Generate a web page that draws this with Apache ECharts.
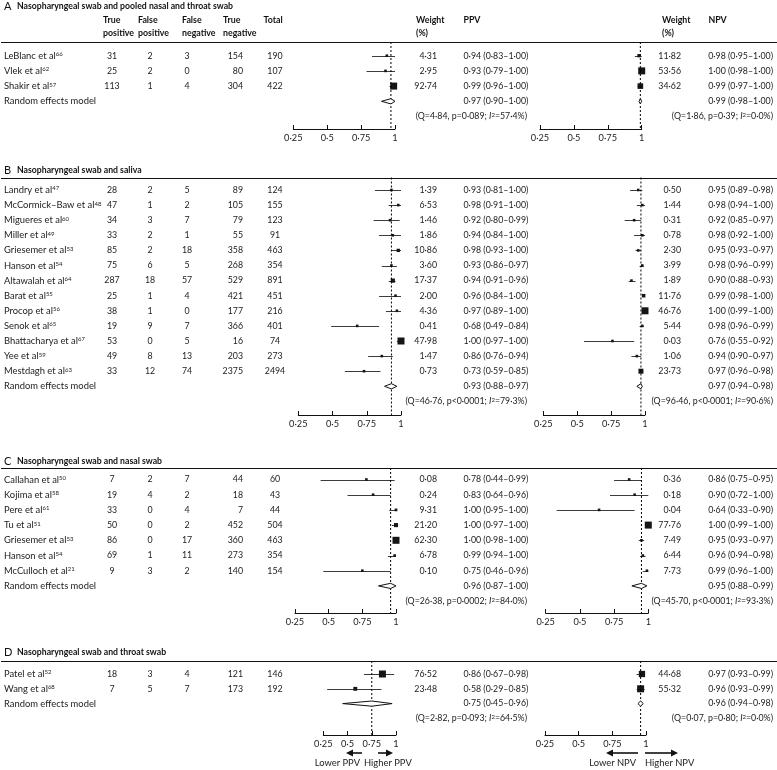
<!DOCTYPE html>
<html><head><meta charset="utf-8">
<script src="https://cdn.jsdelivr.net/npm/echarts@6/dist/echarts.min.js"></script>
<style>html,body{margin:0;padding:0;background:#fff}#c{width:777px;height:770px}</style>
</head><body><div id="c"></div>
<script>
// ---------------- DATA ----------------
// Panel A
const aTitle = 'Nasopharyngeal swab and pooled nasal and throat swab';
const aStudies = ['LeBlanc et al', 'Vlek et al', 'Shakir et al'];
const aRefs = ['66', '62', '57'];
const aTP = [31, 25, 113];
const aFP = [2, 2, 1];
const aFN = [3, 0, 4];
const aTN = [154, 80, 304];
const aTotal = [190, 107, 422];
const aPpvW = [4.31, 2.95, 92.74];
const aPpv = [0.94, 0.93, 0.99];
const aPpvLo = [0.83, 0.79, 0.96];
const aPpvHi = [1.00, 1.00, 1.00];
const aPpvPooled = [0.97, 0.90, 1.00];
const aPpvStats = [4.84, '=0.089', 57.4];
const aNpvW = [11.82, 53.56, 34.62];
const aNpv = [0.98, 1.00, 0.99];
const aNpvLo = [0.95, 0.98, 0.97];
const aNpvHi = [1.00, 1.00, 1.00];
const aNpvPooled = [0.99, 0.98, 1.00];
const aNpvStats = [1.86, '=0.39', 0.0];

// Panel B
const bTitle = 'Nasopharyngeal swab and saliva';
const bStudies = ['Landry et al', 'McCormick–Baw et al', 'Migueres et al', 'Miller et al', 'Griesemer et al', 'Hanson et al', 'Altawalah et al', 'Barat et al', 'Procop et al', 'Senok et al', 'Bhattacharya et al', 'Yee et al', 'Mestdagh et al'];
const bRefs = ['47', '48', '60', '49', '53', '54', '64', '55', '56', '65', '67', '59', '63'];
const bTP = [28, 47, 34, 33, 85, 75, 287, 25, 38, 19, 53, 49, 33];
const bFP = [2, 1, 3, 2, 2, 6, 18, 1, 1, 9, 0, 8, 12];
const bFN = [5, 2, 7, 1, 18, 5, 57, 4, 0, 7, 5, 13, 74];
const bTN = [89, 105, 79, 55, 358, 268, 529, 421, 177, 366, 16, 203, 2375];
const bTotal = [124, 155, 123, 91, 463, 354, 891, 451, 216, 401, 74, 273, 2494];
const bPpvW = [1.39, 6.53, 1.46, 1.86, 10.86, 3.60, 17.37, 2.00, 4.36, 0.41, 47.98, 1.47, 0.73];
const bPpv = [0.93, 0.98, 0.92, 0.94, 0.98, 0.93, 0.94, 0.96, 0.97, 0.68, 1.00, 0.86, 0.73];
const bPpvLo = [0.81, 0.91, 0.80, 0.84, 0.93, 0.86, 0.91, 0.84, 0.89, 0.49, 0.97, 0.76, 0.59];
const bPpvHi = [1.00, 1.00, 0.99, 1.00, 1.00, 0.97, 0.96, 1.00, 1.00, 0.84, 1.00, 0.94, 0.85];
const bPpvPooled = [0.93, 0.88, 0.97];
const bPpvStats = [46.76, '<0.0001', 79.3];
const bNpvW = [0.50, 1.44, 0.31, 0.78, 2.30, 3.99, 1.89, 11.76, 46.76, 5.44, 0.03, 1.06, 23.73];
const bNpv = [0.95, 0.98, 0.92, 0.98, 0.95, 0.98, 0.90, 0.99, 1.00, 0.98, 0.76, 0.94, 0.97];
const bNpvLo = [0.89, 0.94, 0.85, 0.92, 0.93, 0.96, 0.88, 0.98, 0.99, 0.96, 0.55, 0.90, 0.96];
const bNpvHi = [0.98, 1.00, 0.97, 1.00, 0.97, 0.99, 0.93, 1.00, 1.00, 0.99, 0.92, 0.97, 0.98];
const bNpvPooled = [0.97, 0.94, 0.98];
const bNpvStats = [96.46, '<0.0001', 90.6];

// Panel C
const cTitle = 'Nasopharyngeal swab and nasal swab';
const cStudies = ['Callahan et al', 'Kojima et al', 'Pere et al', 'Tu et al', 'Griesemer et al', 'Hanson et al', 'McCulloch et al'];
const cRefs = ['50', '58', '61', '51', '53', '54', '21'];
const cTP = [7, 19, 33, 50, 86, 69, 9];
const cFP = [2, 4, 0, 0, 0, 1, 3];
const cFN = [7, 2, 4, 2, 17, 11, 2];
const cTN = [44, 18, 7, 452, 360, 273, 140];
const cTotal = [60, 43, 44, 504, 463, 354, 154];
const cPpvW = [0.08, 0.24, 9.31, 21.20, 62.30, 6.78, 0.10];
const cPpv = [0.78, 0.83, 1.00, 1.00, 1.00, 0.99, 0.75];
const cPpvLo = [0.44, 0.64, 0.95, 0.97, 0.98, 0.94, 0.46];
const cPpvHi = [0.99, 0.96, 1.00, 1.00, 1.00, 1.00, 0.96];
const cPpvPooled = [0.96, 0.87, 1.00];
const cPpvStats = [26.38, '=0.0002', 84.0];
const cNpvW = [0.36, 0.18, 0.04, 77.76, 7.49, 6.44, 7.73];
const cNpv = [0.86, 0.90, 0.64, 1.00, 0.95, 0.96, 0.99];
const cNpvLo = [0.75, 0.72, 0.33, 0.99, 0.93, 0.94, 0.96];
const cNpvHi = [0.95, 1.00, 0.90, 1.00, 0.97, 0.98, 1.00];
const cNpvPooled = [0.95, 0.88, 0.99];
const cNpvStats = [45.70, '<0.0001', 93.3];

// Panel D
const dTitle = 'Nasopharyngeal swab and throat swab';
const dStudies = ['Patel et al', 'Wang et al'];
const dRefs = ['52', '68'];
const dTP = [18, 7];
const dFP = [3, 5];
const dFN = [4, 7];
const dTN = [121, 173];
const dTotal = [146, 192];
const dPpvW = [76.52, 23.48];
const dPpv = [0.86, 0.58];
const dPpvLo = [0.67, 0.29];
const dPpvHi = [0.98, 0.85];
const dPpvPooled = [0.75, 0.45, 0.96];
const dPpvStats = [2.82, '=0.093', 64.5];
const dNpvW = [44.68, 55.32];
const dNpv = [0.97, 0.96];
const dNpvLo = [0.93, 0.93];
const dNpvHi = [0.99, 0.99];
const dNpvPooled = [0.96, 0.94, 0.98];
const dNpvStats = [0.07, '=0.80', 0.0];

const axisTicks = [0.25, 0.5, 0.75, 1];

// ---------------- LAYOUT ----------------
const FONT = 'Lato, "Liberation Sans", sans-serif';
const FS = 8.8;      // numbers
const FSN = 9.4;     // names / words
const INK = '#222';

const panels = [
  {letter:'A', title:aTitle, studies:aStudies, refs:aRefs, tp:aTP, fp:aFP, fn:aFN, tn:aTN, total:aTotal,
   ppv:{w:aPpvW, e:aPpv, lo:aPpvLo, hi:aPpvHi, pooled:aPpvPooled, stats:aPpvStats},
   npv:{w:aNpvW, e:aNpv, lo:aNpvLo, hi:aNpvHi, pooled:aNpvPooled, stats:aNpvStats},
   L:{titleY:6, lineY:42, row0:55.7, step:15.2, axisY:129, ppvX:[293.3,395], npvX:[540,641.7]}},
  {letter:'B', title:bTitle, studies:bStudies, refs:bRefs, tp:bTP, fp:bFP, fn:bFN, tn:bTN, total:bTotal,
   ppv:{w:bPpvW, e:bPpv, lo:bPpvLo, hi:bPpvHi, pooled:bPpvPooled, stats:bPpvStats},
   npv:{w:bNpvW, e:bNpv, lo:bNpvLo, hi:bNpvHi, pooled:bNpvPooled, stats:bNpvStats},
   L:{titleY:170, lineY:177.5, row0:190, step:15.1, axisY:415, ppvX:[298.3,401], npvX:[543.3,645]}},
  {letter:'C', title:cTitle, studies:cStudies, refs:cRefs, tp:cTP, fp:cFP, fn:cFN, tn:cTN, total:cTotal,
   ppv:{w:cPpvW, e:cPpv, lo:cPpvLo, hi:cPpvHi, pooled:cPpvPooled, stats:cPpvStats},
   npv:{w:cNpvW, e:cNpv, lo:cNpvLo, hi:cNpvHi, pooled:cNpvPooled, stats:cNpvStats},
   L:{titleY:461, lineY:468, row0:479.5, step:15.2, axisY:613, ppvX:[295,396], npvX:[545.7,648.3]}},
  {letter:'D', title:dTitle, studies:dStudies, refs:dRefs, tp:dTP, fp:dFP, fn:dFN, tn:dTN, total:dTotal,
   ppv:{w:dPpvW, e:dPpv, lo:dPpvLo, hi:dPpvHi, pooled:dPpvPooled, stats:dPpvStats},
   npv:{w:dNpvW, e:dNpv, lo:dNpvLo, hi:dNpvHi, pooled:dNpvPooled, stats:dNpvStats},
   L:{titleY:652, lineY:661, row0:674, step:14.8, axisY:735, ppvX:[323.3,396], npvX:[545,646]}}
];

function fmt(v, d) { return v.toFixed(d).replace('.', '·'); }
function ciText(e, l, h) { return fmt(e,2) + ' (' + fmt(l,2) + '–' + fmt(h,2) + ')'; }
function statText(s) { return '(Q=' + fmt(s[0],2) + ', p' + s[1].replace('.', '·') + '; {i|I}{s|2}=' + fmt(s[2],1) + '%)'; }

const RICH = {
  s: {fontSize: 6, fontFamily: FONT, fill: INK, verticalAlign: 'top', lineHeight: 7},
  i: {fontSize: FS, fontFamily: FONT, fill: INK, fontStyle: 'italic'}
};
function txt(x, y, text, align, extra) {
  return {type:'text', x:x, y:y, silent:true,
    style: Object.assign({text:text, fill:INK, fontSize:FS, fontFamily:FONT, align:align||'left', verticalAlign:'middle', rich:RICH}, extra||{})};
}
const crisp = y => Math.round(y) + 0.5;
const NAME = {fontSize: FSN};

const grids = [], xAxes = [], yAxes = [], series = [], graphics = [];

panels.forEach(P => {
  const L = P.L, n = P.studies.length;
  const yMin = (L.lineY - L.row0) / L.step, yMax = (L.axisY - L.row0) / L.step;
  let firstGrid = -1;
  ['ppv', 'npv'].forEach(k => {
    const X = L[k + 'X'], D = P[k];
    const gi = grids.length;
    if (firstGrid < 0) firstGrid = gi;
    grids.push({left: X[0], top: L.lineY, width: X[1] - X[0], height: L.axisY - L.lineY, containLabel: false});
    xAxes.push({gridIndex: gi, type: 'value', min: axisTicks[0], max: axisTicks[axisTicks.length-1], interval: 0.25,
      axisLine: {show: true, onZero: false, lineStyle: {color: '#111', width: 1}},
      axisTick: {show: true, inside: true, length: 4, lineStyle: {color: '#111', width: 1}},
      axisLabel: {show: true, fontSize: 9.2, fontFamily: FONT, color: INK, margin: 5,
        formatter: v => String(+v.toFixed(2)).replace('.', '·')},
      splitLine: {show: false}});
    yAxes.push({gridIndex: gi, type: 'value', inverse: true, min: yMin, max: yMax, show: false});
    const maxW = Math.max.apply(null, D.w);
    // dashed reference line at pooled estimate
    series.push({type: 'line', xAxisIndex: gi, yAxisIndex: gi, silent: true, symbol: 'none', animation: false,
      data: [[D.pooled[0], yMin], [D.pooled[0], yMax]],
      lineStyle: {color: '#000', width: 1, type: [2, 2]}});
    // study CIs and squares
    series.push({type: 'custom', xAxisIndex: gi, yAxisIndex: gi, clip: false, silent: true, animation: false,
      data: D.e.map((e, i) => [i, e, D.lo[i], D.hi[i], D.w[i]]),
      renderItem: (params, api) => {
        const row = api.value(0);
        const pL = api.coord([api.value(2), row]), pH = api.coord([api.value(3), row]), pE = api.coord([api.value(1), row]);
        const s = Math.max(2.6, 7 * Math.sqrt(api.value(4) / maxW));
        const y = crisp(pE[1]);
        return {type: 'group', children: [
          {type: 'line', shape: {x1: pL[0], y1: y, x2: pH[0], y2: y}, style: {stroke: '#3c3c3c', lineWidth: 1}},
          {type: 'rect', shape: {x: pE[0] - s/2, y: pE[1] - s/2, width: s, height: s}, style: {fill: '#151515'}}
        ]};
      }});
    // pooled diamond
    series.push({type: 'custom', xAxisIndex: gi, yAxisIndex: gi, clip: false, silent: true, animation: false, z: 5,
      data: [[n, D.pooled[0], D.pooled[1], D.pooled[2]]],
      renderItem: (params, api) => {
        const row = api.value(0);
        const pE = api.coord([api.value(1), row]), pL = api.coord([api.value(2), row]), pH = api.coord([api.value(3), row]);
        const h = 2.6;
        return {type: 'polygon', shape: {points: [[pL[0], pE[1]], [pE[0], pE[1] - h], [pH[0], pE[1]], [pE[0], pE[1] + h]]},
          style: {fill: '#fff', stroke: '#111', lineWidth: 1}};
      }});
  });
  // table text, aligned to rows through the PPV grid's y axis
  const rows = [];
  for (let i = 0; i < n + 2; i++) rows.push([0.5, i]);
  series.push({type: 'custom', xAxisIndex: firstGrid, yAxisIndex: firstGrid, clip: false, silent: true, animation: false,
    data: rows,
    renderItem: (params, api) => {
      const row = api.value(1);
      const y = api.coord([0.5, row])[1];
      const ch = [];
      if (row < n) {
        ch.push(txt(4, y, P.studies[row] + '{s|' + P.refs[row] + '}', 'left', NAME));
        ch.push(txt(112, y, String(P.tp[row]), 'center'));
        ch.push(txt(150, y, String(P.fp[row]), 'center'));
        ch.push(txt(187, y, String(P.fn[row]), 'center'));
        ch.push(txt(243, y, String(P.tn[row]), 'right'));
        ch.push(txt(275, y, String(P.total[row]), 'center'));
        ch.push(txt(437, y, fmt(P.ppv.w[row], 2), 'right'));
        ch.push(txt(463.5, y, ciText(P.ppv.e[row], P.ppv.lo[row], P.ppv.hi[row]), 'left'));
        ch.push(txt(681, y, fmt(P.npv.w[row], 2), 'right'));
        ch.push(txt(773, y, ciText(P.npv.e[row], P.npv.lo[row], P.npv.hi[row]), 'right'));
      } else if (row === n) {
        ch.push(txt(4, y, 'Random effects model', 'left', NAME));
        ch.push(txt(463.5, y, ciText(P.ppv.pooled[0], P.ppv.pooled[1], P.ppv.pooled[2]), 'left'));
        ch.push(txt(773, y, ciText(P.npv.pooled[0], P.npv.pooled[1], P.npv.pooled[2]), 'right'));
      } else {
        ch.push(txt(527, y, statText(P.ppv.stats), 'right'));
        ch.push(txt(773, y, statText(P.npv.stats), 'right'));
      }
      return {type: 'group', children: ch};
    }});
  // panel title and rule
  graphics.push(txt(4, L.titleY, P.letter, 'left', {fontSize: 11, fill: '#111'}));
  graphics.push(txt(17, L.titleY, P.title, 'left', {fontSize: 8.7, fontWeight: 'bold', fill: '#111'}));
  graphics.push({type: 'line', silent: true, shape: {x1: 1, y1: crisp(L.lineY), x2: 777, y2: crisp(L.lineY)}, style: {stroke: '#111', lineWidth: 1}});
});

// column headers (panel A)
const HB = {fontWeight: 'bold', fill: '#111'};
[['True', 'positive', 103], ['False', 'positive', 138], ['False', 'negative', 182], ['True', 'negative', 223], ['Total', '', 263.5],
 ['Weight', '(%)', 416], ['PPV', '', 463.5], ['Weight', '(%)', 662], ['NPV', '', 708.5]].forEach(h => {
  graphics.push(txt(h[2], 20, h[0], 'left', HB));
  if (h[1]) graphics.push(txt(h[2], 33, h[1], 'left', HB));
});

// direction arrows under panel D
function arrow(xTail, xHead, y) {
  const dir = xHead > xTail ? 1 : -1;
  const base = xHead - dir * 7;
  graphics.push({type: 'line', silent: true, shape: {x1: xTail, y1: y, x2: base, y2: y}, style: {stroke: '#111', lineWidth: 1.6}});
  graphics.push({type: 'polygon', silent: true, shape: {points: [[xHead, y], [base, y - 3.5], [base, y + 3.5]]}, style: {fill: '#111'}});
}
arrow(362, 346, 753);
arrow(378, 393, 753);
arrow(638, 606, 753);
arrow(645, 678, 753);
graphics.push(txt(360, 763, 'Lower PPV', 'right', NAME));
graphics.push(txt(364, 763, 'Higher PPV', 'left', NAME));
graphics.push(txt(636, 763, 'Lower NPV', 'right', NAME));
graphics.push(txt(645, 763, 'Higher NPV', 'left', NAME));

const chart = echarts.init(document.getElementById('c'), null, {renderer: 'canvas'});
chart.setOption({
  animation: false,
  backgroundColor: '#fff',
  grid: grids, xAxis: xAxes, yAxis: yAxes, series: series, graphic: graphics
});
</script>
</body></html>
